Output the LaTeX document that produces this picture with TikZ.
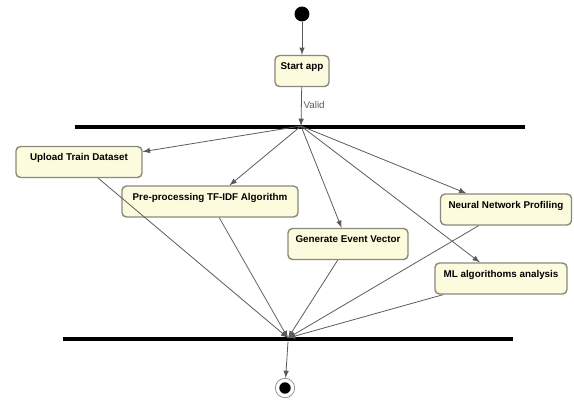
\documentclass[tikz,border=0pt]{standalone}
\usepackage{fontspec}
\setmainfont{Liberation Sans}
\definecolor{actfill}{HTML}{FDFBDD}
\definecolor{actline}{HTML}{8A8A7A}
\definecolor{flowline}{HTML}{5A5A5A}
\begin{document}
\begin{tikzpicture}
    [
    x=0.02cm, y=-0.02cm,
    action/.style={rectangle,rounded corners=2.5pt,draw=actline,fill=actfill,thick,
      font=\fontsize{5.6}{6.5}\selectfont\bfseries,inner xsep=3pt,inner ysep=3pt,
      text height=5pt,text depth=6.6pt},
    bar/.style={rectangle,fill=black,inner sep=0pt,minimum height=2.6pt},
    flow/.style={draw=flowline,line width=0.45pt,-latex},
    initial/.style={circle,fill=black,inner sep=0pt,minimum size=8.5pt},
    final/.style={circle,draw=actline,fill=white,inner sep=0pt,minimum size=11pt}
    ]
    \useasboundingbox (0,0) rectangle (574,402);
    \node (start) at (302,14) [initial] {};
    \node (app) at (302,71) [action,minimum width=54*0.02cm] {Start app};
    \node (forkbar) at (300,127) [bar,minimum width=450*0.02cm] {};
    \coordinate (fork) at (301,126);
    \node (upload) at (79,162) [action,minimum width=126*0.02cm] {Upload Train Dataset};
    \node (prep) at (210,201.5) [action,minimum width=176*0.02cm] {Pre-processing TF-IDF Algorithm};
    \node (event) at (348,244) [action,minimum width=120*0.02cm] {Generate Event Vector};
    \node (neural) at (506,209.5) [action,minimum width=131*0.02cm] {Neural Network Profiling};
    \node (mlalg) at (501,278.5) [action,minimum width=132*0.02cm] {ML algorithoms analysis};
    \node (joinbar) at (288,339) [bar,minimum width=450*0.02cm] {};
    \coordinate (join) at (288,338);
    \node (end) at (285,388) [final] {};
    \node at (end) [circle,fill=black,inner sep=0pt,minimum size=6.5pt] {};
    \draw [flow] (start) to (app);
    \draw [flow] (app) to node [right,pos=0.45,text=flowline,font=\fontsize{5.6}{6.5}\selectfont,inner sep=1pt] {Valid} (fork);
    \draw [flow] (fork) to (upload);
    \draw [flow] (fork) to (prep);
    \draw [flow] (fork) to (event);
    \draw [flow] (fork) to (neural);
    \draw [flow] (fork) to (mlalg);
    \draw [flow] (upload) to (join);
    \draw [flow] (prep) to (join);
    \draw [flow] (event) to (join);
    \draw [flow] (neural) to (join);
    \draw [flow] (mlalg) to (join);
    \draw [flow] (joinbar.south -| join) to (end);
  \end{tikzpicture}
\end{document}
